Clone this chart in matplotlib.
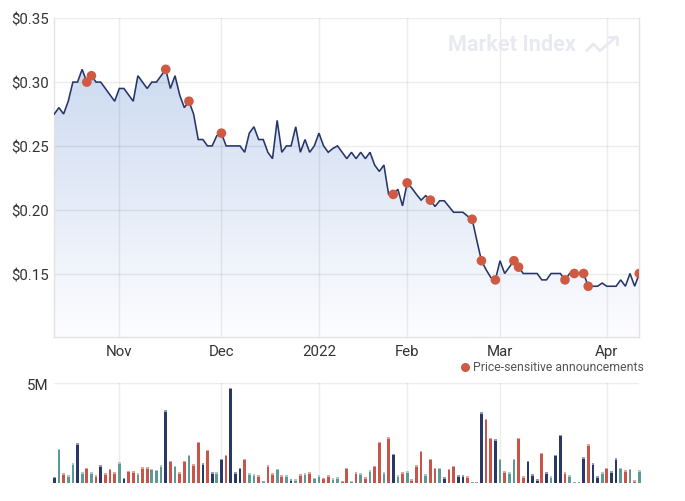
import matplotlib
matplotlib.use('Agg')
import matplotlib.pyplot as plt
import numpy as np
from matplotlib.patches import Polygon
from matplotlib.lines import Line2D

plt.rcParams['font.family'] = ['Roboto', 'DejaVu Sans']

# ---------------- data ----------------
price = [
    0.275, 0.28, 0.275, 0.285, 0.30, 0.30, 0.31, 0.30, 0.305, 0.30,
    0.30, 0.295, 0.29, 0.285, 0.295, 0.295, 0.29, 0.285, 0.305, 0.30,
    0.295, 0.30, 0.30, 0.305, 0.31, 0.295, 0.305, 0.29, 0.28, 0.285,
    0.275, 0.255, 0.255, 0.25, 0.25, 0.258, 0.26, 0.25, 0.25, 0.25,
    0.25, 0.245, 0.26, 0.265, 0.255, 0.255, 0.245, 0.24, 0.27, 0.245,
    0.25, 0.25, 0.265, 0.245, 0.255, 0.245, 0.25, 0.26, 0.25, 0.245,
    0.248, 0.25, 0.245, 0.24, 0.245, 0.24, 0.245, 0.24, 0.245, 0.235,
    0.23, 0.235, 0.212, 0.212, 0.216, 0.203, 0.221, 0.217, 0.212, 0.2075,
    0.211, 0.2075, 0.2025, 0.207, 0.207, 0.2025, 0.198, 0.198, 0.198, 0.195,
    0.1925, 0.176, 0.16, 0.153, 0.147, 0.145, 0.16, 0.15, 0.155, 0.16,
    0.155, 0.15, 0.15, 0.15, 0.15, 0.145, 0.145, 0.15, 0.15, 0.15,
    0.145, 0.15, 0.15, 0.15, 0.15, 0.14, 0.14, 0.14, 0.1425, 0.14,
    0.14, 0.14, 0.145, 0.14, 0.15, 0.14, 0.15,
]

# volume in millions
volume = [
    0.30, 1.68, 0.47, 0.37, 0.97, 1.98, 0.52, 0.74, 0.52, 0.37,
    0.87, 0.47, 0.69, 0.52, 1.02, 0.23, 0.59, 0.57, 0.47, 0.77,
    0.77, 0.69, 0.64, 0.87, 3.64, 1.09, 0.84, 0.52, 1.09, 1.39,
    0.92, 2.05, 0.97, 1.64, 0.52, 0.52, 1.19, 1.39, 4.75, 0.52,
    0.74, 1.19, 0.47, 0.42, 0.37, 0.07, 0.87, 0.47, 0.69, 0.37,
    0.37, 0.17, 0.17, 0.42, 0.47, 0.52, 0.23, 0.37, 0.23, 0.37,
    0.22, 0.27, 0.10, 0.74, 0.10, 0.52, 0.47, 0.27, 0.62, 0.84,
    2.05, 0.52, 2.28, 1.43, 0.37, 0.52, 0.57, 0.17, 0.87, 1.59,
    0.42, 1.19, 0.74, 0.74, 0.27, 0.69, 0.84, 0.37, 0.37, 0.32,
    0.0, 0.0, 3.54, 3.19, 2.25, 2.18, 1.19, 0.57, 0.52, 1.19,
    2.25, 0.32, 1.09, 0.42, 0.17, 1.48, 0.52, 0.32, 1.38, 2.40,
    0.52, 0.37, 0.0, 0.0, 1.27, 1.93, 0.97, 0.32, 0.52, 0.74,
    0.57, 1.22, 0.74, 0.62, 0.69, 0.12, 0.62,
]

# bar colour category: n = navy, t = teal, r = red
vol_kind = list(
    "ntrttntrtr"
    "nrrrtnrrtr"
    "rtttnrtrrt"
    "rrnrntnrnn"
    "nrttrnrrtr"
    "tntrtrttrr"
    "ttrrtrtrtr"
    "rtrntrtrrr"
    "trrtnrrnnr"
    "nnnrrntrtt"
    "rrnnnrntnn"
    "rtnnnrnntr"
    "nntrtrt"
)

announce_idx = [7, 8, 24, 29, 36, 73, 76, 81, 90, 92, 95, 99, 100, 110, 112, 114, 115, 126]

month_pos = [14, 36, 57, 76, 96, 119]
month_labels = ['Nov', 'Dec', '2022', 'Feb', 'Mar', 'Apr']

price_ticks = [0.15, 0.20, 0.25, 0.30, 0.35]
price_tick_labels = ['$0.15', '$0.20', '$0.25', '$0.30', '$0.35']

# ---------------- styling ----------------
W, H = 685, 502
fig = plt.figure(figsize=(W / 100, H / 100), dpi=100)
fig.patch.set_facecolor('white')


def fx(px):
    return px / W


def fy(py):
    return 1 - py / H


L, R = 54.3, 639.3
ax = fig.add_axes([fx(L), fy(338.3), fx(R) - fx(L), fy(19.3) - fy(338.3)])
axv = fig.add_axes([fx(L), fy(483.7), fx(R) - fx(L), fy(384.3) - fy(483.7)])

LINE_C = '#26356a'
DOT_C = '#cf5a43'
TXT_C = '#333333'
GRID_C = '#000000'
GRID_A = 0.07
TICK_FS = 10.8
colors = {'n': '#2a3866', 't': '#5c9a93', 'r': '#c9544a'}
caps = {'n': '#959bb3', 't': '#a9cac6', 'r': '#e2a39c'}

x = np.arange(len(price))
n = len(price)

# gradient fill under the line
g = np.linspace(0, 1, 256).reshape(-1, 1, 1)
top = np.array([204, 218, 240]) / 255
bot = np.array([253, 253, 255]) / 255
img = top * (1 - g) + bot * g
im = ax.imshow(img, extent=[0, n - 1, 0.10, 0.315], aspect='auto', origin='upper',
               zorder=0.2, interpolation='bilinear')
verts = [(0, 0.10)] + list(zip(x, price)) + [(n - 1, 0.10)]
clip = Polygon(verts, closed=True, facecolor='none', edgecolor='none', transform=ax.transData)
ax.add_patch(clip)
im.set_clip_path(clip)

ax.plot(x, price, color=LINE_C, lw=1.15, zorder=3, solid_joinstyle='miter')
ax.scatter(announce_idx, [price[i] for i in announce_idx], s=48, color=DOT_C,
           edgecolors='none', zorder=4)

ax.set_xlim(0, n - 1)
ax.set_ylim(0.10, 0.35)
ax.set_xticks(month_pos, month_labels)
ax.set_yticks(price_ticks, price_tick_labels)
ax.tick_params(axis='both', length=0, labelsize=TICK_FS, labelcolor=TXT_C)
ax.tick_params(axis='x', pad=5)
ax.tick_params(axis='y', pad=4)
ax.set_axisbelow(True)
ax.grid(True, color=GRID_C, alpha=GRID_A, lw=1)
ax.spines['top'].set_visible(False)
for s in ['left', 'bottom', 'right']:
    ax.spines[s].set_color('#e2e2e2')
    ax.spines[s].set_linewidth(1)
ax.set_facecolor('white')

# watermark
fig.text(fx(448), fy(45), 'Market Index', fontsize=15.6, fontweight='bold',
         color='#e9eaf1', ha='left', va='center')
zig_x = [586.7, 593.3, 600.0, 616.0]
zig_y = [51.7, 45.0, 51.7, 38.0]
fig.add_artist(Line2D([fx(v) for v in zig_x], [fy(v) for v in zig_y], color='#e9eaf1',
                      lw=2, transform=fig.transFigure))
fig.add_artist(Line2D([fx(609), fx(617), fx(617)], [fy(37.5), fy(37.5), fy(45)],
                      color='#e9eaf1', lw=2, transform=fig.transFigure))

# legend
fig.add_artist(Line2D([fx(465)], [fy(367.5)], marker='o', ms=6.5, color=DOT_C,
                      mec='none', transform=fig.transFigure))
fig.text(fx(473), fy(367.5), 'Price-sensitive announcements', fontsize=8.8,
         color='#555555', ha='left', va='center')

# volume
bar_w = 0.58
cap_h = 0.06
axv.bar(x, volume, width=bar_w, color=[colors[k] for k in vol_kind], zorder=2,
        clip_on=False, linewidth=0)
cap_bottom = [max(v - cap_h, 0) for v in volume]
axv.bar(x, [cap_h] * n, bottom=cap_bottom, width=bar_w,
        color=[caps[k] for k in vol_kind], zorder=2.1, clip_on=False, linewidth=0)
axv.set_xlim(0, n - 1)
axv.set_ylim(0, 5)
axv.set_xticks(month_pos, [''] * len(month_pos))
axv.set_yticks([5], ['5M'])
axv.tick_params(axis='both', length=0, labelsize=TICK_FS, labelcolor=TXT_C)
axv.tick_params(axis='y', pad=4)
axv.set_axisbelow(True)
axv.grid(True, color=GRID_C, alpha=GRID_A, lw=1)
for s in axv.spines.values():
    s.set_visible(False)

fig.savefig('out.png', dpi=100)
